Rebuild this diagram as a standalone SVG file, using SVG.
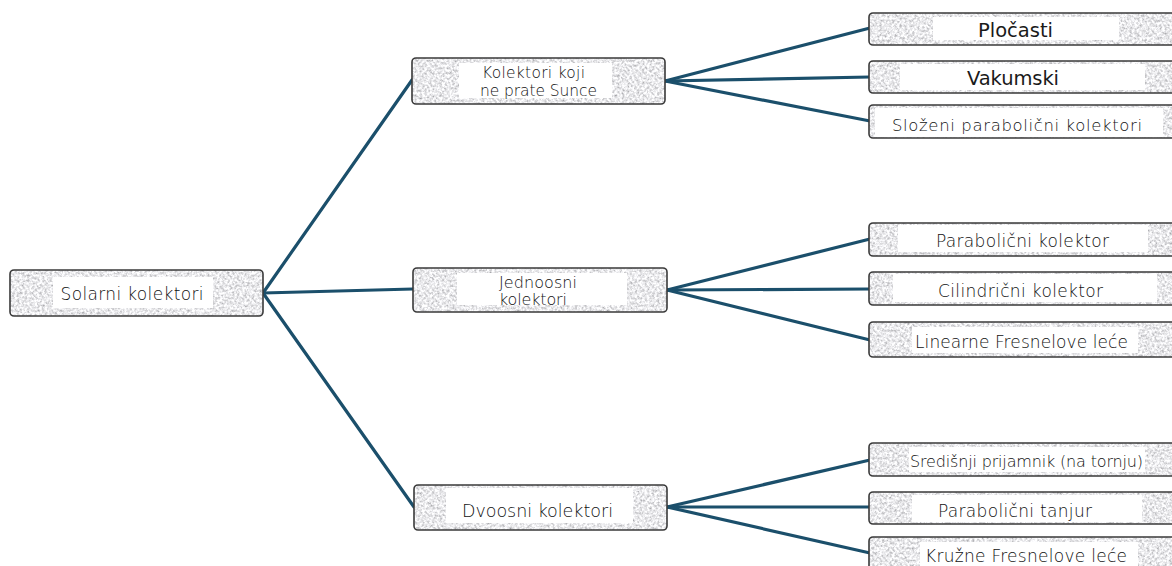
<svg xmlns="http://www.w3.org/2000/svg" width="1172" height="566" viewBox="0 0 1172 566">
<style>
  .box { fill: #cfcfcf; filter: url(#granite); }
  .edge { fill: none; stroke: #3a3a3a; stroke-width: 1.6; }
  .lbl { fill: #ffffff; }
  text { font-family: "DejaVu Sans", "Liberation Sans", sans-serif; fill: #111111; font-weight: 300; }
  .b { font-weight: 400; fill: #1a1a1a; }
  .c { text-anchor: middle; }
  #connectors line { stroke: #1b4f6b; stroke-width: 3.2; stroke-linecap: round; }
</style>
<defs>
  <filter id="granite" x="0" y="0" width="100%" height="100%">
    <feTurbulence type="fractalNoise" baseFrequency="0.4" numOctaves="4" seed="7" result="n"/>
    <feColorMatrix in="n" type="matrix" values="1.1 0 0 0 0.27  1.1 0 0 0 0.27  1.1 0 0 0 0.29  0 0 0 0 1" result="g"/>
    <feComposite in="g" in2="SourceGraphic" operator="in"/>
  </filter>
</defs>

<g id="connectors">
  <line x1="263" y1="293" x2="412" y2="80"/>
  <line x1="263" y1="293" x2="413" y2="289"/>
  <line x1="263" y1="293" x2="414" y2="507"/>
  <line x1="665" y1="81" x2="870" y2="28"/>
  <line x1="665" y1="81" x2="870" y2="77"/>
  <line x1="665" y1="81" x2="870" y2="121"/>
  <line x1="667" y1="290" x2="870" y2="239"/>
  <line x1="667" y1="290" x2="870" y2="289"/>
  <line x1="667" y1="290" x2="870" y2="340"/>
  <line x1="667" y1="507" x2="870" y2="460"/>
  <line x1="667" y1="507" x2="870" y2="507"/>
  <line x1="667" y1="507" x2="870" y2="553"/>
</g>

<g id="root">
  <rect class="box" x="10" y="270" width="253" height="46" rx="4"/>
  <rect class="edge" x="10" y="270" width="253" height="46" rx="4"/>
  <rect class="lbl" x="53" y="277" width="160" height="31"/>
  <text class="c" x="132" y="300" font-size="17" textLength="143" lengthAdjust="spacing">Solarni kolektori</text>
</g>

<g id="mid1">
  <rect class="box" x="412" y="58" width="253" height="46" rx="4"/>
  <rect class="edge" x="412" y="58" width="253" height="46" rx="4"/>
  <rect class="lbl" x="459" y="63" width="153" height="35"/>
  <text class="c" x="533.5" y="78" font-size="15.5" textLength="103" lengthAdjust="spacing">Kolektori koji</text>
  <text class="c" x="538.5" y="96" font-size="15.5" textLength="117" lengthAdjust="spacing">ne prate Sunce</text>
</g>

<g id="mid2">
  <rect class="box" x="413" y="268" width="254" height="44" rx="4"/>
  <rect class="edge" x="413" y="268" width="254" height="44" rx="4"/>
  <rect class="lbl" x="457" y="273" width="170" height="32"/>
  <text x="499" y="288" font-size="16" textLength="78" lengthAdjust="spacing">Jednoosni</text>
  <text x="499" y="305" font-size="16" textLength="68" lengthAdjust="spacing">kolektori</text>
</g>

<g id="mid3">
  <rect class="box" x="414" y="485" width="253" height="45" rx="4"/>
  <rect class="edge" x="414" y="485" width="253" height="45" rx="4"/>
  <rect class="lbl" x="446" y="488" width="187" height="35"/>
  <text class="c" x="537.5" y="517" font-size="17.5" textLength="151" lengthAdjust="spacing">Dvoosni kolektori</text>
</g>

<g id="leaf1">
  <rect class="box" x="869" y="13" width="320" height="32" rx="4"/>
  <rect class="edge" x="869" y="13" width="320" height="32" rx="4"/>
  <rect class="lbl" x="933" y="17" width="186" height="23"/>
  <text class="c b" x="1015.5" y="37" font-size="19.5" textLength="75" lengthAdjust="spacing">Pločasti</text>
</g>

<g id="leaf2">
  <rect class="box" x="869" y="61" width="320" height="32" rx="4"/>
  <rect class="edge" x="869" y="61" width="320" height="32" rx="4"/>
  <rect class="lbl" x="900" y="64" width="245" height="26"/>
  <text class="c b" x="1013" y="85" font-size="19.5" textLength="92" lengthAdjust="spacing">Vakumski</text>
</g>

<g id="leaf3">
  <rect class="box" x="869" y="105" width="320" height="33" rx="4"/>
  <rect class="edge" x="869" y="105" width="320" height="33" rx="4"/>
  <rect class="lbl" x="875" y="108" width="288" height="29"/>
  <text class="c" x="1017" y="131" font-size="16.5" textLength="250" lengthAdjust="spacing">Složeni parabolični kolektori</text>
</g>

<g id="leaf4">
  <rect class="box" x="869" y="223" width="320" height="33" rx="4"/>
  <rect class="edge" x="869" y="223" width="320" height="33" rx="4"/>
  <rect class="lbl" x="898" y="225" width="250" height="27"/>
  <text class="c" x="1022.5" y="247" font-size="17" textLength="173" lengthAdjust="spacing">Parabolični kolektor</text>
</g>

<g id="leaf5">
  <rect class="box" x="869" y="272" width="320" height="33" rx="4"/>
  <rect class="edge" x="869" y="272" width="320" height="33" rx="4"/>
  <rect class="lbl" x="893" y="274" width="264" height="28"/>
  <text class="c" x="1020.5" y="297" font-size="17" textLength="165" lengthAdjust="spacing">Cilindrični kolektor</text>
</g>

<g id="leaf6">
  <rect class="box" x="869" y="322" width="320" height="35" rx="4"/>
  <rect class="edge" x="869" y="322" width="320" height="35" rx="4"/>
  <rect class="lbl" x="912" y="327" width="226" height="26"/>
  <text class="c" x="1021.5" y="348" font-size="17" textLength="213" lengthAdjust="spacing">Linearne Fresnelove leće</text>
</g>

<g id="leaf7">
  <rect class="box" x="869" y="443" width="320" height="33" rx="4"/>
  <rect class="edge" x="869" y="443" width="320" height="33" rx="4"/>
  <rect class="lbl" x="909" y="447" width="236" height="25"/>
  <text class="c" x="1026.5" y="467" font-size="16" textLength="233" lengthAdjust="spacing">Središnji prijamnik (na tornju)</text>
</g>

<g id="leaf8">
  <rect class="box" x="869" y="492" width="320" height="32" rx="4"/>
  <rect class="edge" x="869" y="492" width="320" height="32" rx="4"/>
  <rect class="lbl" x="912" y="495" width="230" height="27"/>
  <text class="c" x="1015" y="517" font-size="17" textLength="154" lengthAdjust="spacing">Parabolični tanjur</text>
</g>

<g id="leaf9">
  <rect class="box" x="869" y="537" width="320" height="40" rx="4"/>
  <rect class="edge" x="869" y="537" width="320" height="40" rx="4"/>
  <rect class="lbl" x="920" y="542" width="218" height="30"/>
  <text class="c" x="1026" y="562" font-size="17" textLength="202" lengthAdjust="spacing">Kružne Fresnelove leće</text>
</g>
</svg>
